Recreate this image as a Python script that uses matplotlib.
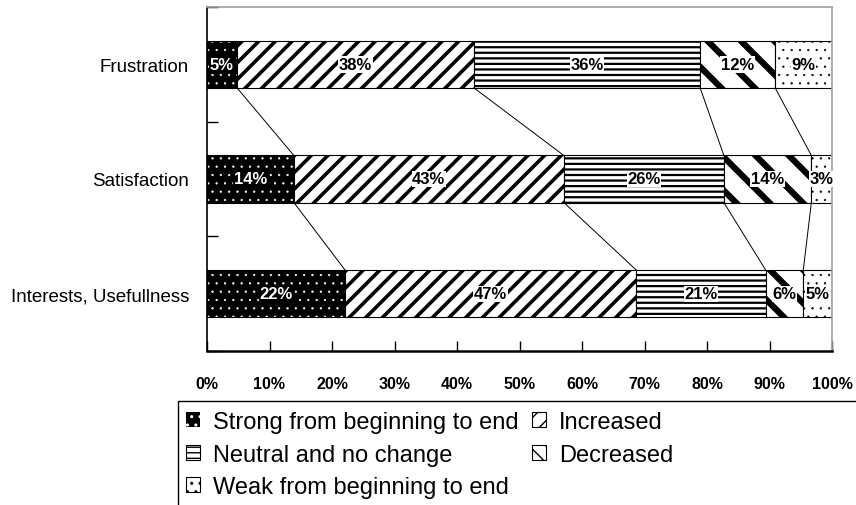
import matplotlib
matplotlib.use("Agg")
from matplotlib import pyplot as plt
from matplotlib.patches import Patch, Rectangle

# data (percent), top to bottom
categories = ["Frustration", "Satisfaction", "Interests, Usefullness"]
series = ["Strong from beginning to end", "Increased", "Neutral and no change",
          "Decreased", "Weak from beginning to end"]
strong = [4.8, 13.9, 22.1]
increased = [37.9, 43.2, 46.6]
neutral = [36.2, 25.6, 20.7]
decreased = [12.0, 14.0, 6.0]
weak = [9.1, 3.3, 4.6]
labels = [["5%", "14%", "22%"], ["38%", "43%", "47%"], ["36%", "26%", "21%"],
          ["12%", "14%", "6%"], ["9%", "3%", "5%"]]
xticks = [0, 10, 20, 30, 40, 50, 60, 70, 80, 90, 100]

values = [strong, increased, neutral, decreased, weak]
hatches = ["..", "//", "---", "\\", ".."]
hatch_lw = [0.4, 2.6, 1.6, 4.5, 0.4]

font = ["Liberation Sans", "DejaVu Sans"]

fig = plt.figure(figsize=(8.56, 5.06), dpi=100)
ax = fig.add_axes([207 / 856, 1 - 352 / 506, 625 / 856, 344 / 506])

ypos = list(range(len(categories)))
h = 0.41
left = [0.0] * len(categories)
bounds = [[] for _ in categories]
for k, vals in enumerate(values):
    with plt.rc_context({"hatch.linewidth": hatch_lw[k]}):
        if k == 0:
            bars = ax.barh(ypos, vals, height=h, left=left, color="black",
                           edgecolor="white", hatch=hatches[k], linewidth=0)
            ax.barh(ypos, vals, height=h, left=left, fill=False,
                    edgecolor="black", linewidth=0.8)
        else:
            bars = ax.barh(ypos, vals, height=h, left=left, color="white",
                           edgecolor="black", hatch=hatches[k], linewidth=0.8)
    for b in bars:
        if hasattr(b, "set_hatch_linewidth"):
            b.set_hatch_linewidth(hatch_lw[k])
    for i, v in enumerate(vals):
        cx = left[i] + v / 2
        if k == 0:
            ax.text(cx, i, labels[k][i], ha="center", va="center", color="white",
                    fontsize=12, fontweight="bold", family=font,
                    bbox=dict(facecolor="black", edgecolor="none", pad=0.5))
        else:
            ax.text(cx, i, labels[k][i], ha="center", va="center", color="black",
                    fontsize=12, fontweight="bold", family=font,
                    bbox=dict(facecolor="white", edgecolor="none", pad=0.5))
        left[i] += v
        bounds[i].append(left[i])

# series lines between bars
for i in range(len(categories) - 1):
    for k in range(len(values) - 1):
        ax.plot([bounds[i][k], bounds[i + 1][k]], [i + h / 2, i + 1 - h / 2],
                color="black", linewidth=0.7)

ax.set_xlim(0, 100)
ax.set_ylim(len(categories) - 0.5, -0.5)
ax.set_xticks(xticks)
ax.set_xticklabels([f"{t}%" for t in xticks], fontsize=11.5, fontweight="bold",
                   family=font)
ax.set_yticks(ypos)
ax.set_yticklabels(categories, fontsize=13.5, family=font)
ax.set_yticks([y - 0.5 for y in ypos] + [len(categories) - 0.5], minor=True)
ax.tick_params(axis="y", which="major", length=0, pad=13)
ax.tick_params(axis="y", which="minor", direction="in", length=8, width=1)
ax.tick_params(axis="x", direction="in", length=7, width=1, pad=18)

for s in ["top", "right"]:
    ax.spines[s].set_color("#a0a0a0")
    ax.spines[s].set_linewidth(1.2)
ax.spines["left"].set_linewidth(1.2)
ax.spines["bottom"].set_linewidth(1.8)

# legend (frame runs past the bottom/right edge)
leg_hatch = ["..", "//", "---", "\\\\", ".."]
leg_lw = [0.5, 2.4, 1.4, 2.8, 0.5]
handles = []
for k in range(5):
    with plt.rc_context({"hatch.linewidth": leg_lw[k]}):
        if k == 0:
            p = Patch(facecolor="black", edgecolor="white", hatch=leg_hatch[k],
                      linewidth=0)
        else:
            p = Patch(facecolor="white", edgecolor="black", hatch=leg_hatch[k],
                      linewidth=0.8)
    handles.append(p)
order = [0, 2, 4, 1, 3]
fig.legend([handles[j] for j in order], [series[j] for j in order], ncol=2,
           loc="upper left", bbox_to_anchor=(176 / 856, 1 - 402 / 506),
           frameon=False, prop={"family": font, "size": 17},
           handlelength=0.6, handleheight=0.6, handletextpad=0.55,
           columnspacing=0.55, labelspacing=0.45, borderpad=0.42, borderaxespad=0)
fig.add_artist(Rectangle((178 / 856, -0.2), 1.0, 0.2 + (506 - 402) / 506,
                         transform=fig.transFigure, fill=False,
                         edgecolor="black", linewidth=1))

fig.savefig("out.png", dpi=100)
